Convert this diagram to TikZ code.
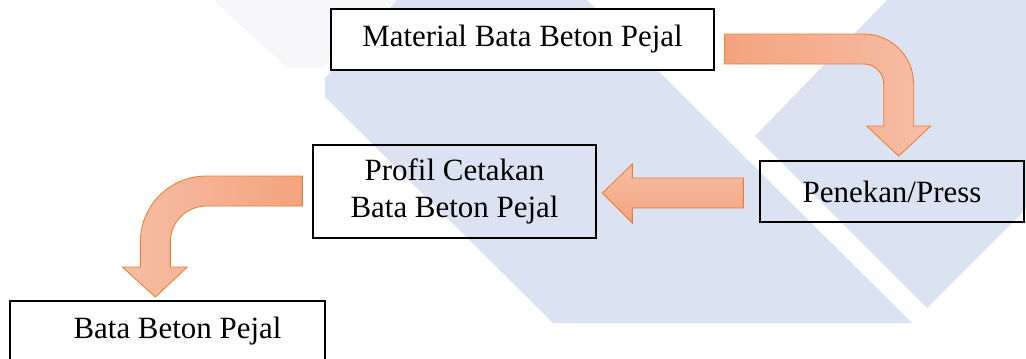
\documentclass[tikz,border=0pt]{standalone}
\usepackage{fontspec}
\setmainfont{Liberation Serif}
\definecolor{wmblue}{RGB}{219,226,241}
\definecolor{wmgray}{RGB}{247,247,249}
\definecolor{arrline}{RGB}{237,125,49}
\definecolor{arrdark}{RGB}{244,163,126}
\definecolor{arrlight}{RGB}{246,190,166}
\begin{document}
\begin{tikzpicture}[x=0.025cm,y=-0.025cm,
  kotak/.style={draw,line width=0.9pt,minimum height=1.525cm,inner sep=0pt,font=\fontsize{22}{26.5}\selectfont},
  panah/.style={draw=arrline,line width=0.6pt}]
\useasboundingbox (0,0) rectangle (1026,358);
\clip (0,0) rectangle (1026,358);
\fill[wmgray] (213,0) -- (397,0) -- (322,68) -- (287,68) -- cycle;
\fill[wmblue] (397,0) -- (587,0) -- (912,323) -- (553,323) -- (325,97) -- (325,78) -- cycle;
\fill[wmblue] (887,0) -- (1026,0) -- (1026,209) -- (927,308) -- (755,136) -- cycle;

\node[kotak,fill=white,minimum width=9.575cm] (mat) at (522.5,39.5) {Material Bata Beton Pejal};
\node[kotak,minimum width=6.6cm] (press) at (892,191.5) {Penekan/Press};
\node[kotak,minimum width=7.075cm,minimum height=2.325cm,align=center] (profil) at (454.5,191.5) {Profil Cetakan\\Bata Beton Pejal};
\node[kotak,minimum width=7.875cm] (bata) at (167.5,331.5) {\hspace*{0.5cm}Bata Beton Pejal};

\draw[panah,shift={(mat.east)},left color=arrdark,right color=arrlight] (10,-5.5) -- (149,-5.5) arc[start angle=-90,end angle=0,radius=50] -- (199,86.5) -- (216,86.5) -- (184,116.5) -- (152,86.5) -- (169,86.5) -- (169,44.5) arc[start angle=0,end angle=-90,radius=20] -- (10,24.5) -- cycle;
\draw[panah,shift={(press.west)},top color=arrlight,bottom color=arrdark] (-16,-13.5) -- (-127,-13.5) -- (-127,-27.5) -- (-157,1.5) -- (-127,31.5) -- (-127,16.5) -- (-16,16.5) -- cycle;
\draw[panah,shift={(profil.west)},left color=arrlight,right color=arrdark] (-10,-15.5) -- (-106,-15.5) arc[start angle=-90,end angle=-180,radius=66] -- (-172,75.5) -- (-190,75.5) -- (-157,105.5) -- (-125,75.5) -- (-142,75.5) -- (-142,50.5) arc[start angle=180,end angle=270,radius=36] -- (-10,14.5) -- cycle;
\end{tikzpicture}
\end{document}
